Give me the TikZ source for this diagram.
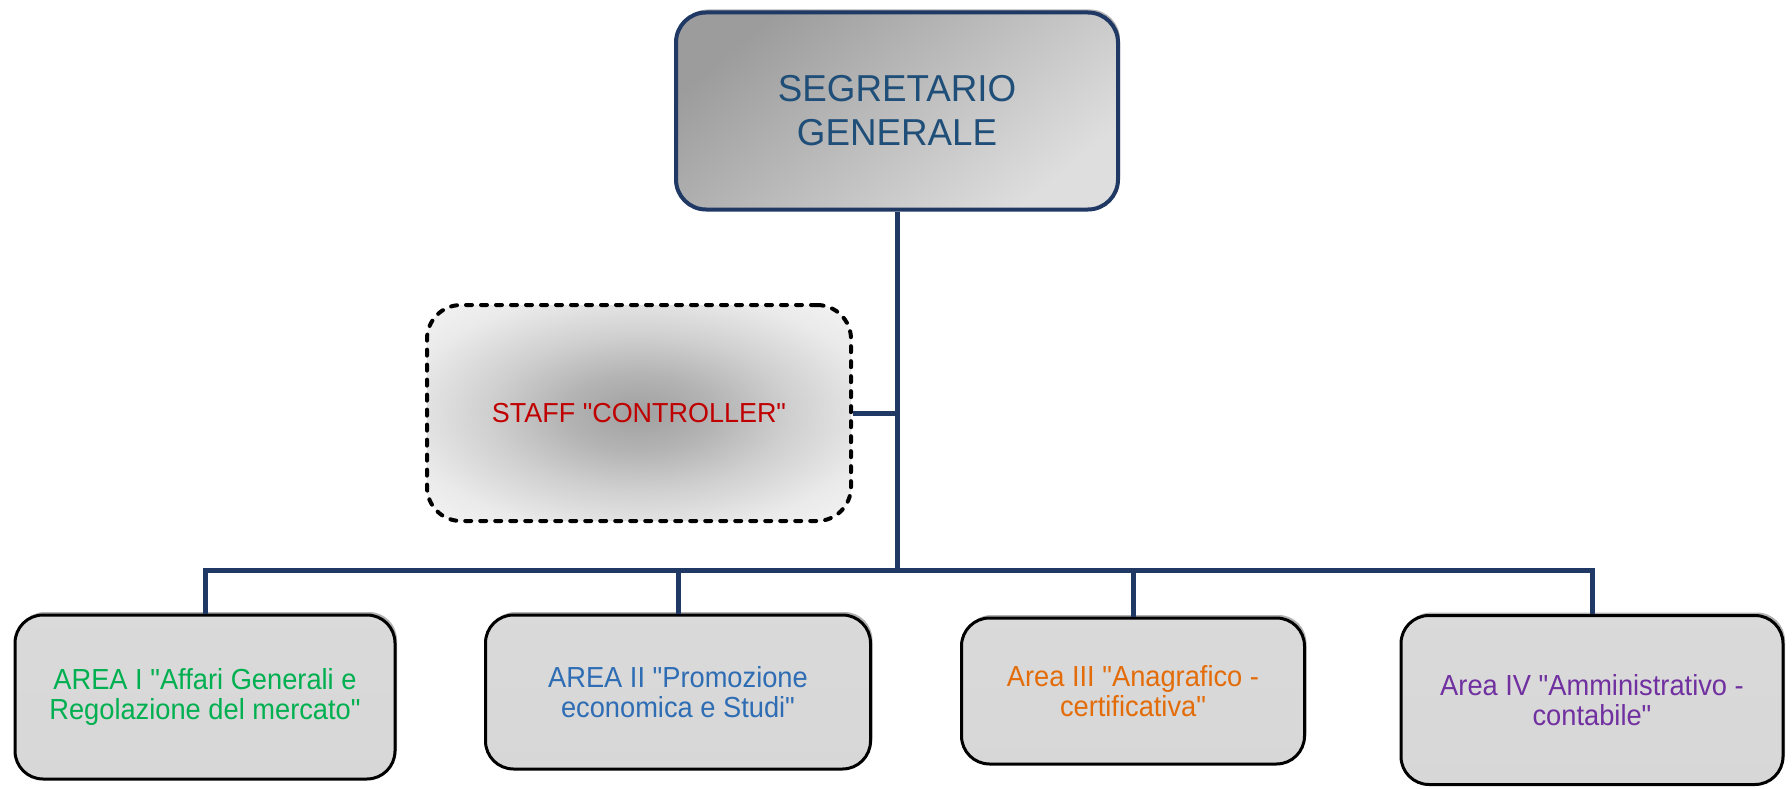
\documentclass[tikz,border=0pt]{standalone}
\usepackage{fontspec}
\setmainfont{Liberation Sans}
\newfontfamily\areafont{Liberation Sans}[FakeStretch=0.94]
\newfontfamily\capsfont{Liberation Sans}[FakeStretch=0.98]
\newfontfamily\titlefont{Liberation Sans}[FakeStretch=0.98]
\usetikzlibrary{shadows}
\definecolor{navy}{HTML}{1F3864}
\definecolor{titleblue}{HTML}{1F4E79}
\definecolor{agreen}{HTML}{00B050}
\definecolor{ablue}{HTML}{2E6DB4}
\definecolor{aorange}{HTML}{E36C09}
\definecolor{apurple}{HTML}{7030A0}
\definecolor{ared}{HTML}{C00000}
\definecolor{tA}{HTML}{9C9C9C}
\definecolor{tB}{HTML}{DEDEDE}
\definecolor{bA}{HTML}{F2F2F2}
\definecolor{bM}{HTML}{DADADA}
\definecolor{bB}{HTML}{D6D6D6}
\definecolor{sA}{HTML}{A0A0A0}
\definecolor{sB}{HTML}{B4B4B4}
\definecolor{sC}{HTML}{D0D0D0}
\definecolor{sE}{HTML}{EAEAEA}
\definecolor{sD}{HTML}{F4F4F4}
\pgfdeclareradialshading{staffshade}{\pgfpoint{0bp}{0bp}}{color(0bp)=(sA); color(9bp)=(sB); color(18bp)=(sC); color(28bp)=(sE); color(36bp)=(sD); color(75bp)=(sD)}
\pgfdeclareverticalshading{areashade}{100bp}{color(0bp)=(bB); color(82bp)=(bM); color(92bp)=(bA); color(100bp)=(bA)}
\tikzset{
  conn/.style={draw=navy, line width=5pt, line join=miter},
  boxshadow/.style={drop shadow={shadow xshift=2pt, shadow yshift=3pt, opacity=0.3, fill=black}},
  areabox/.style={rectangle, rounded corners=28pt, draw=black, line width=3pt,
    shading=areashade, boxshadow, align=center,
    font=\areafont\fontsize{29}{30}\selectfont},
  topbox/.style={rectangle, rounded corners=30pt, draw=navy, line width=4pt,
    top color=tA, bottom color=tB, shading angle=40, boxshadow, align=center,
    text=titleblue, font=\titlefont\fontsize{37.5}{44}\selectfont},
  staffbox/.style={rectangle, rounded corners=34pt, draw=black, line width=4pt,
    line cap=round, dash pattern=on 6pt off 9pt, shading=staffshade,
    align=center, text=ared, font=\capsfont\fontsize{27.5}{30}\selectfont},
}
\begin{document}
\begin{tikzpicture}[x=1pt, y=-1pt]
\useasboundingbox[fill=white] (0,0) rectangle (1792,789);
\node[topbox, minimum width=442pt, minimum height=197pt] (top) at (897,111) {SEGRETARIO\\GENERALE};
\node[staffbox, minimum width=424pt, minimum height=216pt] (staff) at (639,413) {STAFF "CONTROLLER"};
\node[areabox, minimum width=380pt, minimum height=164pt, text=agreen] (a1) at (205,697) {AREA I "Affari Generali e\\Regolazione del mercato"};
\node[areabox, minimum width=385pt, minimum height=154pt, text=ablue] (a2) at (678,692) {AREA II "Promozione\\economica e Studi"};
\node[areabox, minimum width=343pt, minimum height=146pt, text=aorange] (a3) at (1133,691) {Area III "Anagrafico -\\certificativa"};
\node[areabox, minimum width=382pt, minimum height=169pt, text=apurple] (a4) at (1592,700) {Area IV "Amministrativo -\\contabile"};
\coordinate (bus) at (897,570);
\draw[conn] (top.south) -- (bus);
\draw[conn] (staff.east) -- (staff.east -| bus);
\draw[conn] (a1.north) -- (a1.north |- bus) -- (a4.north |- bus) -- (a4.north);
\draw[conn] (a2.north) -- (a2.north |- bus);
\draw[conn] (a3.north) -- (a3.north |- bus);
\end{tikzpicture}
\end{document}
